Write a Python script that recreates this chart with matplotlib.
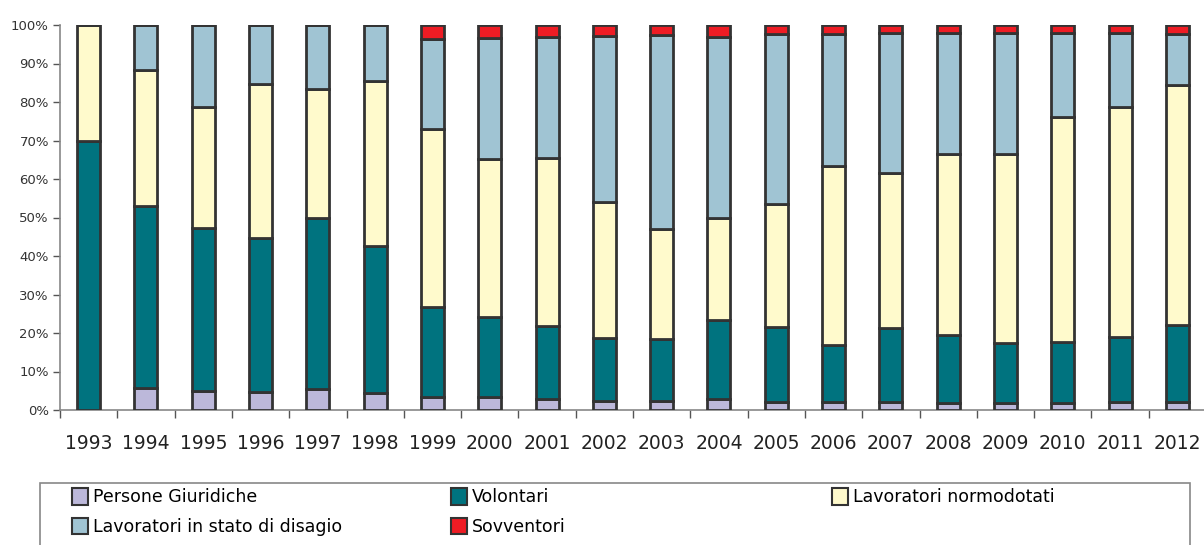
import matplotlib
matplotlib.use('Agg')
import matplotlib.pyplot as plt
from matplotlib.patches import Rectangle, Patch
from matplotlib.ticker import PercentFormatter, FixedLocator
import numpy as np

years = [str(y) for y in range(1993, 2013)]

# quote (%) per categoria di socio
persone_giuridiche = [0.0, 5.6, 5.0, 4.8, 5.4, 4.5, 3.5, 3.3, 2.9, 2.4,
                      2.4, 2.8, 2.0, 2.0, 2.0, 1.7, 1.7, 1.7, 2.0, 2.0]
volontari = [70.0, 47.4, 42.2, 40.0, 44.4, 38.2, 23.3, 20.8, 18.9, 16.4,
             16.0, 20.7, 19.6, 14.9, 19.2, 17.8, 15.8, 16.0, 16.9, 20.1]
normodotati = [30.0, 35.3, 31.6, 40.0, 33.5, 42.8, 46.2, 41.2, 43.7, 35.2,
               28.7, 26.3, 31.9, 46.5, 40.4, 46.9, 48.9, 58.3, 59.7, 62.3]
disagio = [0.0, 11.7, 21.2, 15.2, 16.7, 14.5, 23.3, 31.2, 31.3, 43.2,
           50.2, 47.2, 44.1, 34.2, 36.2, 31.6, 31.6, 22.0, 19.2, 13.3]
sovventori = [0.0, 0.0, 0.0, 0.0, 0.0, 0.0, 3.7, 3.5, 3.2, 2.8,
              2.7, 3.0, 2.4, 2.4, 2.2, 2.0, 2.0, 2.0, 2.2, 2.3]

series = [
    ('Persone Giuridiche', persone_giuridiche, '#bcb8da'),
    ('Volontari', volontari, '#00737f'),
    ('Lavoratori normodotati', normodotati, '#fffacc'),
    ('Lavoratori in stato di disagio', disagio, '#a0c4d3'),
    ('Sovventori', sovventori, '#ee1c24'),
]

edge = '#333333'
fig = plt.figure(figsize=(12.04, 5.45), dpi=100)
ax = fig.add_axes([60 / 1204, 135 / 545, 1146 / 1204, 385 / 545])

x = np.arange(len(years))
bottom = np.zeros(len(years))
handles = {}
for name, vals, color in series:
    vals = np.array(vals)
    ax.bar(x, vals, width=0.4, bottom=bottom, color=color,
           edgecolor=edge, linewidth=2.0, zorder=3)
    bottom += vals
    handles[name] = Patch(facecolor=color, edgecolor=edge, linewidth=1.5)

ax.set_xlim(-0.5, len(years) - 0.5)
ax.set_ylim(0, 100)
ax.yaxis.set_major_locator(FixedLocator(np.arange(0, 101, 10)))
ax.yaxis.set_major_formatter(PercentFormatter(decimals=0))

# year labels centred, tick marks between the categories
ax.set_xticks(x)
ax.set_xticklabels(years, fontsize=13.5, color='#222222')
ax.tick_params(axis='x', which='major', length=0, pad=17)
ax.set_xticks(np.arange(-0.5, len(years)), minor=True)
ax.tick_params(axis='x', which='minor', length=6, color='#555555', width=1)
ax.tick_params(axis='y', length=5, color='#555555', width=1,
               labelsize=9.5, labelcolor='#333333', pad=3)

for side in ('top', 'right'):
    ax.spines[side].set_visible(False)
for side in ('left', 'bottom'):
    ax.spines[side].set_color('#888888')
    ax.spines[side].set_linewidth(1.2)

# legend box runs off the bottom edge
fig.add_artist(Rectangle((40 / 1204, -0.05), 1150 / 1204, (62 / 545) + 0.05,
                         transform=fig.transFigure, fill=False,
                         edgecolor='#888888', linewidth=1.2))

# one legend per column so each column sits at its own x
columns = [
    (72, ['Persone Giuridiche', 'Lavoratori in stato di disagio']),
    (451, ['Volontari', 'Sovventori']),
    (832, ['Lavoratori normodotati']),
]
for xpix, names in columns:
    fig.legend([handles[n] for n in names], names, frameon=False,
               loc='upper left', bbox_to_anchor=(xpix / 1204, 57 / 545),
               fontsize=12.5, handlelength=0.9, handleheight=1.1,
               handletextpad=0.3, labelspacing=0.65,
               borderaxespad=0, borderpad=0)

fig.savefig('out.png', dpi=100, facecolor='white')
